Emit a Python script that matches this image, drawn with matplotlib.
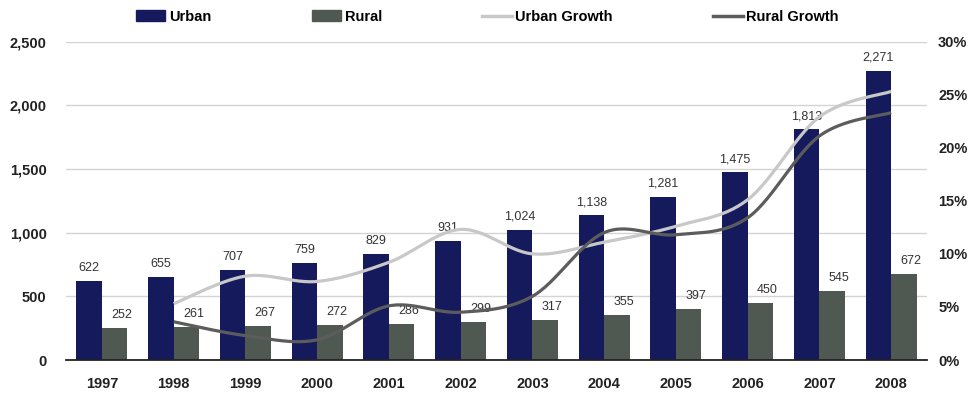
#!/usr/bin/env python3

import numpy as np
from matplotlib import pyplot as plt
from matplotlib.patches import Patch
from matplotlib.lines import Line2D
from matplotlib.ticker import FuncFormatter

plt.rcParams["font.family"] = ["Liberation Sans", "DejaVu Sans"]

years = ["1997", "1998", "1999", "2000", "2001", "2002",
         "2003", "2004", "2005", "2006", "2007", "2008"]
urban = [622, 655, 707, 759, 829, 931, 1024, 1138, 1281, 1475, 1813, 2271]
rural = [252, 261, 267, 272, 286, 299, 317, 355, 397, 450, 545, 672]

# year-on-year growth, starting from 1998
urban_growth = [0.053, 0.079, 0.074, 0.092, 0.123, 0.100,
                0.111, 0.126, 0.151, 0.229, 0.253]
rural_growth = [0.036, 0.023, 0.019, 0.051, 0.045, 0.060,
                0.120, 0.118, 0.134, 0.211, 0.233]

URBAN_C = "#141a5c"
RURAL_C = "#505951"
UGROW_C = "#c8c8c8"
RGROW_C = "#5c5c5c"
TEXT_C = "#222222"


def smooth(x, y, n=30):
    """ Catmull-Rom curve through the points, like a spreadsheet's smoothed line. """
    x = np.asarray(x, float)
    y = np.asarray(y, float)
    px = np.concatenate([[x[0]], x, [x[-1]]])
    py = np.concatenate([[y[0]], y, [y[-1]]])
    xs, ys = [], []
    t = np.linspace(0, 1, n)
    for i in range(1, len(px) - 2):
        for p, out in ((px, xs), (py, ys)):
            p0, p1, p2, p3 = p[i - 1], p[i], p[i + 1], p[i + 2]
            out.append(0.5 * ((2 * p1) + (-p0 + p2) * t
                              + (2 * p0 - 5 * p1 + 4 * p2 - p3) * t ** 2
                              + (-p0 + 3 * p1 - 3 * p2 + p3) * t ** 3))
    return np.concatenate(xs), np.concatenate(ys)


fig = plt.figure(figsize=(9.69, 3.95), dpi=100)
ax = fig.add_axes([0.0681, 0.0886, 0.8886, 0.8063])

x = np.arange(len(years))
w = 0.356
ax.bar(x - w / 2, urban, w, color=URBAN_C, zorder=2)
ax.bar(x + w / 2, rural, w, color=RURAL_C, zorder=2)

for xi, v in zip(x, urban):
    ax.annotate(f"{v:,}", (xi - w / 2, v), xytext=(0, 5), textcoords="offset points",
                ha="center", va="bottom", fontsize=9, color="#333333", zorder=4)
for xi, v in zip(x, rural):
    ax.annotate(f"{v:,}", (xi + w / 2, v), xytext=(5, 5), textcoords="offset points",
                ha="center", va="bottom", fontsize=9, color="#333333", zorder=4)

ax.set_xlim(-0.5, len(years) - 0.5)
ax.set_ylim(0, 2500)
ax.set_yticks(range(0, 2501, 500))
ax.yaxis.set_major_formatter(FuncFormatter(lambda v, _: f"{int(v):,}"))
ax.set_xticks(x)
ax.set_xticklabels(years)
ax.grid(axis="y", color="#d4d4d4", lw=1, zorder=0)
ax.set_axisbelow(True)
for s in ("left", "right", "top"):
    ax.spines[s].set_visible(False)
ax.spines["bottom"].set_color("#222222")
ax.spines["bottom"].set_linewidth(1.3)
ax.spines["bottom"].set_zorder(3)
ax.tick_params(length=0, labelsize=10.5, labelcolor=TEXT_C)
ax.tick_params(axis="x", pad=12)
ax.tick_params(axis="y", pad=14)
for lbl in ax.get_xticklabels() + ax.get_yticklabels():
    lbl.set_fontweight("bold")

ax2 = ax.twinx()
ax2.set_ylim(0, 0.30)
ax2.set_yticks(np.arange(0, 0.301, 0.05))
ax2.yaxis.set_major_formatter(FuncFormatter(lambda v, _: f"{v * 100:.0f}%"))
for s in ax2.spines.values():
    s.set_visible(False)
ax2.tick_params(length=0, labelsize=10.5, labelcolor=TEXT_C, pad=8)
for lbl in ax2.get_yticklabels():
    lbl.set_fontweight("bold")

gx = x[1:]
sx, sy = smooth(gx, urban_growth)
ax2.plot(sx, sy, color=UGROW_C, lw=2.3, solid_capstyle="butt", zorder=3)
sx, sy = smooth(gx, rural_growth)
ax2.plot(sx, sy, color=RGROW_C, lw=2.3, solid_capstyle="butt", zorder=3)

handles = [
    Patch(color=URBAN_C, label="Urban"),
    Patch(color=RURAL_C, label="Rural"),
    Line2D([], [], color=UGROW_C, lw=2.5, label="Urban Growth"),
    Line2D([], [], color=RGROW_C, lw=2.5, label="Rural Growth"),
]
fig.legend(handles=handles, loc="center", bbox_to_anchor=(0.503, 0.957), ncol=4,
           frameon=False, handlelength=2.0, handleheight=0.8, handletextpad=0.25,
           columnspacing=6.9, prop={"weight": "bold", "size": 10.5})

fig.savefig("out.png", dpi=100)
